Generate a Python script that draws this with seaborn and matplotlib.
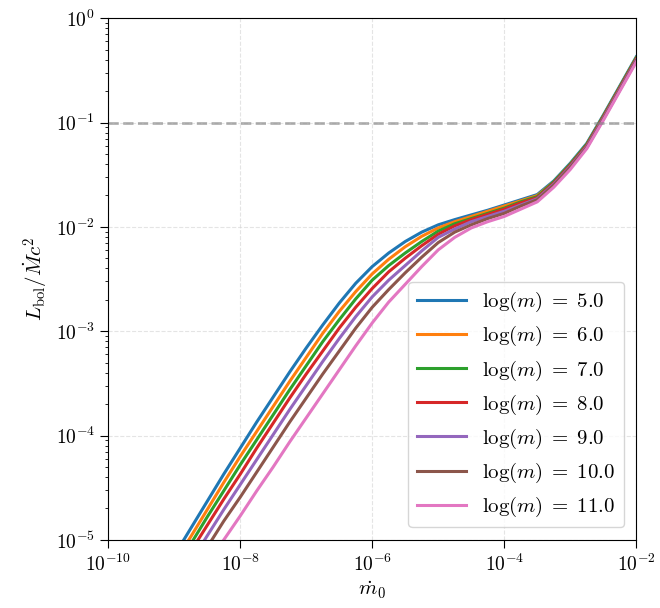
import numpy as np
import pandas as pd
import seaborn as sns
from matplotlib import pyplot as plt
from matplotlib.ticker import NullLocator

# log10 of mdot_0 grid
log_mdot = [-9.25, -9.0, -8.75, -8.5, -8.25, -8.0, -7.75, -7.5, -7.25, -7.0,
            -6.75, -6.5, -6.25, -6.0, -5.75, -5.5, -5.25, -5.0, -4.75, -4.5,
            -4.25, -4.0, -3.75, -3.5, -3.25, -3.0, -2.75, -2.5, -2.25, -2.0]

# log10 of L_bol / (Mdot c^2), one list per black hole mass
log_m5 = [-5.41, -5.15, -4.89, -4.63, -4.37, -4.12, -3.87, -3.63, -3.39, -3.16,
          -2.94, -2.73, -2.54, -2.38, -2.25, -2.14, -2.05, -1.98, -1.93, -1.885,
          -1.84, -1.79, -1.74, -1.69, -1.56, -1.39, -1.20, -0.93, -0.65, -0.37]
log_m6 = [-5.48, -5.22, -4.97, -4.71, -4.45, -4.20, -3.96, -3.72, -3.48, -3.25,
          -3.02, -2.81, -2.62, -2.45, -2.31, -2.19, -2.09, -2.01, -1.95, -1.90,
          -1.85, -1.80, -1.75, -1.70, -1.57, -1.40, -1.21, -0.94, -0.66, -0.38]
log_m7 = [-5.55, -5.29, -5.04, -4.78, -4.53, -4.28, -4.04, -3.80, -3.56, -3.33,
          -3.10, -2.89, -2.69, -2.51, -2.37, -2.25, -2.14, -2.04, -1.97, -1.92,
          -1.87, -1.82, -1.76, -1.71, -1.57, -1.40, -1.21, -0.94, -0.66, -0.38]
log_m8 = [-5.62, -5.36, -5.11, -4.86, -4.61, -4.37, -4.12, -3.88, -3.64, -3.41,
          -3.19, -2.97, -2.77, -2.59, -2.43, -2.30, -2.18, -2.07, -1.99, -1.93,
          -1.88, -1.83, -1.77, -1.72, -1.58, -1.41, -1.22, -0.95, -0.67, -0.39]
log_m9 = [-5.70, -5.45, -5.21, -4.96, -4.71, -4.47, -4.23, -3.99, -3.75, -3.52,
          -3.29, -3.07, -2.86, -2.67, -2.51, -2.37, -2.23, -2.10, -2.02, -1.95,
          -1.90, -1.85, -1.79, -1.73, -1.59, -1.42, -1.23, -0.96, -0.68, -0.40]
log_m10 = [-5.80, -5.55, -5.31, -5.07, -4.82, -4.59, -4.35, -4.11, -3.87, -3.64,
           -3.41, -3.19, -2.97, -2.77, -2.60, -2.44, -2.29, -2.15, -2.05, -1.98,
           -1.92, -1.87, -1.80, -1.74, -1.60, -1.43, -1.24, -0.97, -0.69, -0.41]
log_m11 = [-5.95, -5.71, -5.48, -5.24, -5.00, -4.77, -4.53, -4.30, -4.06, -3.83,
           -3.60, -3.37, -3.14, -2.92, -2.72, -2.55, -2.38, -2.22, -2.10, -2.01,
           -1.95, -1.90, -1.83, -1.76, -1.62, -1.45, -1.25, -0.98, -0.70, -0.42]

masses = [5.0, 6.0, 7.0, 8.0, 9.0, 10.0, 11.0]
curves = [log_m5, log_m6, log_m7, log_m8, log_m9, log_m10, log_m11]

rows = []
for m, c in zip(masses, curves):
    label = r'$\log(m)\;=\;%.1f$' % m
    for lx, ly in zip(log_mdot, c):
        rows.append({'mdot': 10 ** lx, 'lbol': 10 ** ly, 'label': label})
df = pd.DataFrame(rows)

plt.rcParams['font.family'] = ['serif']
plt.rcParams['font.serif'] = ['cmr10', 'DejaVu Serif']
plt.rcParams['mathtext.fontset'] = 'cm'
plt.rcParams['axes.formatter.use_mathtext'] = True
plt.rcParams['axes.unicode_minus'] = False

fig = plt.figure(figsize=(6.6, 6.08), dpi=100)
ax = fig.add_axes([0.164, 0.112, 0.800, 0.858])

sns.lineplot(data=df, x='mdot', y='lbol', hue='label', palette='tab10',
             linewidth=2.2, ax=ax, sort=False, estimator=None)

ax.axhline(0.1, color='gray', linestyle='--', linewidth=2, alpha=0.6)

ax.set_xscale('log')
ax.set_yscale('log')
ax.set_xlim(1e-10, 1e-2)
ax.set_ylim(1e-5, 1)
ax.set_xticks([1e-10, 1e-8, 1e-6, 1e-4, 1e-2])
ax.xaxis.set_minor_locator(NullLocator())
ax.grid(True, which='major', linestyle='--', color='lightgray', alpha=0.6)
ax.tick_params(axis='both', which='major', labelsize=14, length=6)
ax.set_xlabel(r'$\dot{m}_0$', fontsize=15)
ax.set_ylabel(r'$L_{\rm bol}/\dot{M}c^2$', fontsize=15)

ax.legend(loc='lower right', fontsize=15, handlelength=2.35, labelspacing=0.48,
          borderaxespad=0.6, title=None)

fig.savefig('out.png', dpi=100)
